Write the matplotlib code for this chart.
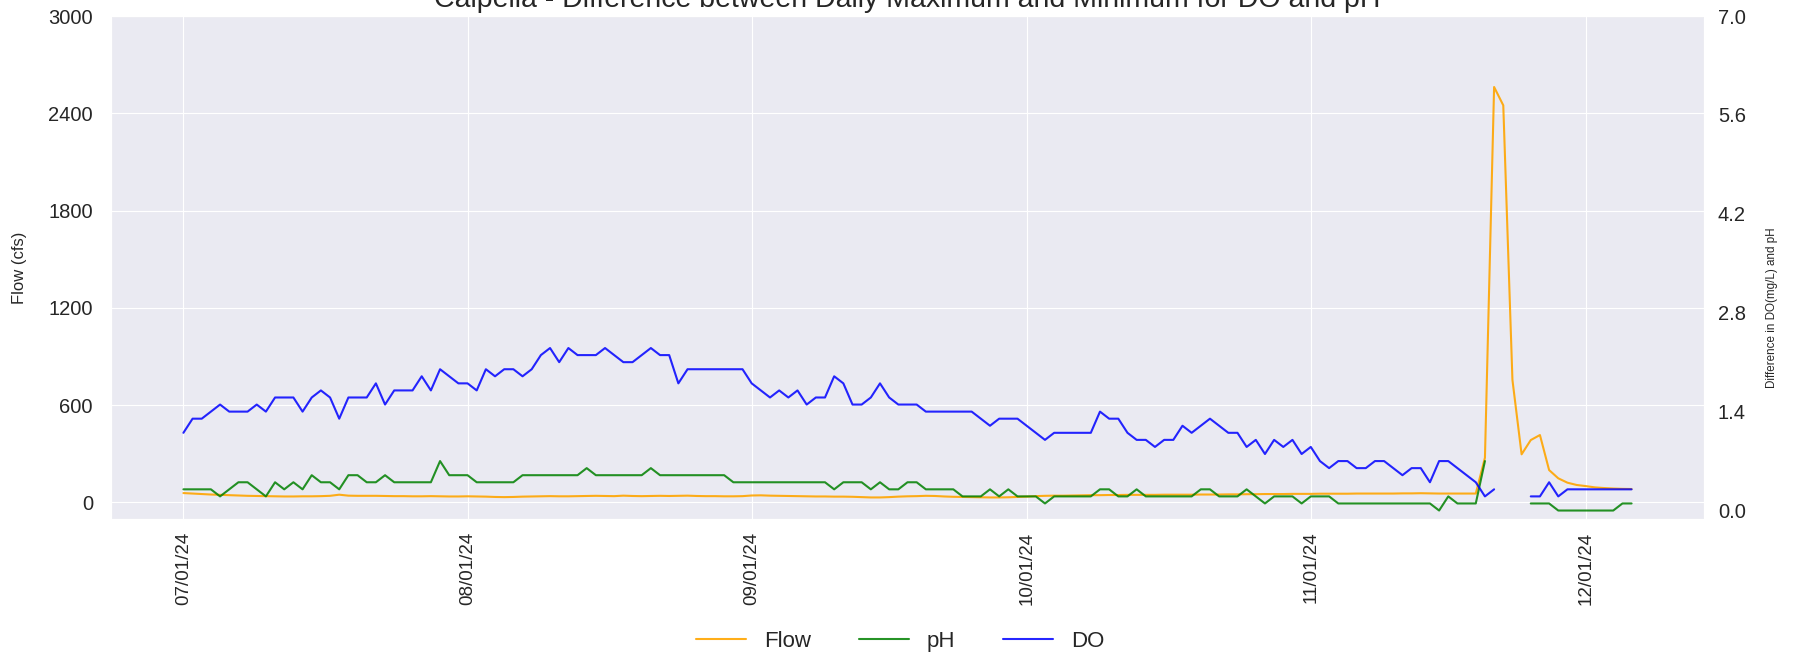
import matplotlib
matplotlib.use('Agg')
import matplotlib.pyplot as plt
import matplotlib.dates as mdates
from matplotlib import font_manager
import numpy as np
import pandas as pd
import seaborn as sns

# ---------------- data ----------------
start_date = '2024-07-01'

flow = [57, 54, 51, 48, 46, 44, 42, 40, 39, 38,
        37, 36, 36, 37, 37, 38, 40, 47, 41, 40,
        40, 40, 39, 38, 38, 37, 37, 38, 37, 36,
        36, 37, 36, 35, 33, 32, 33, 35, 36, 37,
        38, 37, 37, 38, 39, 40, 39, 38, 41, 39,
        38, 39, 40, 39, 40, 41, 39, 38, 38, 37,
        37, 38, 42, 43, 41, 40, 39, 38, 37, 36,
        36, 35, 35, 34, 32, 30, 30, 32, 35, 37,
        38, 40, 39, 36, 34, 33, 32, 31, 30, 30,
        31, 33, 35, 38, 40, 41, 41, 42, 43, 44,
        44, 45, 45, 46, 46, 46, 46, 47, 47, 47,
        47, 48, 48, 48, 49, 49, 50, 50, 51, 51,
        51, 52, 52, 52, 53, 53, 53, 53, 54, 54,
        54, 54, 54, 55, 55, 56, 55, 54, 54, 54,
        54, 54, 275, 2562, 2449, 755, 296, 384, 415, 199,
        148, 121, 107, 100, 92, 88, 85, 83, 82]

ph = [0.3, 0.3, 0.3, 0.3, 0.2, 0.3, 0.4, 0.4, 0.3, 0.2,
      0.4, 0.3, 0.4, 0.3, 0.5, 0.4, 0.4, 0.3, 0.5, 0.5,
      0.4, 0.4, 0.5, 0.4, 0.4, 0.4, 0.4, 0.4, 0.7, 0.5,
      0.5, 0.5, 0.4, 0.4, 0.4, 0.4, 0.4, 0.5, 0.5, 0.5,
      0.5, 0.5, 0.5, 0.5, 0.6, 0.5, 0.5, 0.5, 0.5, 0.5,
      0.5, 0.6, 0.5, 0.5, 0.5, 0.5, 0.5, 0.5, 0.5, 0.5,
      0.4, 0.4, 0.4, 0.4, 0.4, 0.4, 0.4, 0.4, 0.4, 0.4,
      0.4, 0.3, 0.4, 0.4, 0.4, 0.3, 0.4, 0.3, 0.3, 0.4,
      0.4, 0.3, 0.3, 0.3, 0.3, 0.2, 0.2, 0.2, 0.3, 0.2,
      0.3, 0.2, 0.2, 0.2, 0.1, 0.2, 0.2, 0.2, 0.2, 0.2,
      0.3, 0.3, 0.2, 0.2, 0.3, 0.2, 0.2, 0.2, 0.2, 0.2,
      0.2, 0.3, 0.3, 0.2, 0.2, 0.2, 0.3, 0.2, 0.1, 0.2,
      0.2, 0.2, 0.1, 0.2, 0.2, 0.2, 0.1, 0.1, 0.1, 0.1,
      0.1, 0.1, 0.1, 0.1, 0.1, 0.1, 0.1, 0.0, 0.2, 0.1,
      0.1, 0.1, 0.7, None, None, None, None, 0.1, 0.1, 0.1,
      0.0, 0.0, 0.0, 0.0, 0.0, 0.0, 0.0, 0.1, 0.1]

do = [1.1, 1.3, 1.3, 1.4, 1.5, 1.4, 1.4, 1.4, 1.5, 1.4,
      1.6, 1.6, 1.6, 1.4, 1.6, 1.7, 1.6, 1.3, 1.6, 1.6,
      1.6, 1.8, 1.5, 1.7, 1.7, 1.7, 1.9, 1.7, 2.0, 1.9,
      1.8, 1.8, 1.7, 2.0, 1.9, 2.0, 2.0, 1.9, 2.0, 2.2,
      2.3, 2.1, 2.3, 2.2, 2.2, 2.2, 2.3, 2.2, 2.1, 2.1,
      2.2, 2.3, 2.2, 2.2, 1.8, 2.0, 2.0, 2.0, 2.0, 2.0,
      2.0, 2.0, 1.8, 1.7, 1.6, 1.7, 1.6, 1.7, 1.5, 1.6,
      1.6, 1.9, 1.8, 1.5, 1.5, 1.6, 1.8, 1.6, 1.5, 1.5,
      1.5, 1.4, 1.4, 1.4, 1.4, 1.4, 1.4, 1.3, 1.2, 1.3,
      1.3, 1.3, 1.2, 1.1, 1.0, 1.1, 1.1, 1.1, 1.1, 1.1,
      1.4, 1.3, 1.3, 1.1, 1.0, 1.0, 0.9, 1.0, 1.0, 1.2,
      1.1, 1.2, 1.3, 1.2, 1.1, 1.1, 0.9, 1.0, 0.8, 1.0,
      0.9, 1.0, 0.8, 0.9, 0.7, 0.6, 0.7, 0.7, 0.6, 0.6,
      0.7, 0.7, 0.6, 0.5, 0.6, 0.6, 0.4, 0.7, 0.7, 0.6,
      0.5, 0.4, 0.2, 0.3, None, None, None, 0.2, 0.2, 0.4,
      0.2, 0.3, 0.3, 0.3, 0.3, 0.3, 0.3, 0.3, 0.3]

flow_ticks = [0, 600, 1200, 1800, 2400, 3000]
diff_ticks = [0.0, 1.4, 2.8, 4.2, 5.6, 7.0]

title = "Calpella - Difference between Daily Maximum and Minimum for DO and pH"

# ---------------- style ----------------
sns.set_style('darkgrid')
plt.rcParams['font.family'] = ['Liberation Sans', 'DejaVu Sans']
text_color = '#262626'

# narrow font for the right-hand label if one is installed
installed = {f.name for f in font_manager.fontManager.ttflist}
if 'Liberation Sans Narrow' in installed:
    right_label_font = dict(family=['Liberation Sans Narrow', 'DejaVu Sans'], fontsize=9.6)
else:
    right_label_font = dict(family=['Liberation Sans', 'DejaVu Sans'], fontsize=8.4)

dates = pd.date_range(start_date, periods=len(flow), freq='D')
ph_arr = np.array([np.nan if v is None else v for v in ph], dtype=float)
do_arr = np.array([np.nan if v is None else v for v in do], dtype=float)

W, H = 1800, 657
fig = plt.figure(figsize=(W / 100, H / 100), dpi=100)
ax = fig.add_axes([111 / W, 1 - 519 / H, 1593 / W, 503 / H])
ax2 = ax.twinx()

l1, = ax.plot(dates, flow, color='orange', lw=1.5, alpha=0.9, label='Flow')
l2, = ax2.plot(dates, ph_arr, color='green', lw=1.5, alpha=0.85, label='pH')
l3, = ax2.plot(dates, do_arr, color='blue', lw=1.5, alpha=0.85, label='DO')

ax.set_ylim(-103, 3000)
ax.set_yticks(flow_ticks)
ax2.set_ylim(-0.12, 7.0)
ax2.set_yticks(diff_ticks)
ax2.yaxis.set_major_formatter(matplotlib.ticker.FormatStrFormatter('%.1f'))
ax2.grid(False)

ax.xaxis.set_major_locator(mdates.MonthLocator())
ax.xaxis.set_major_formatter(mdates.DateFormatter('%m/%d/%y'))
for lab in ax.get_xticklabels():
    lab.set_rotation(90)

ax.tick_params(axis='y', labelsize=14.5, pad=13, colors=text_color, length=0)
ax.tick_params(axis='x', labelsize=13.5, pad=9, colors=text_color, length=0)
ax2.tick_params(axis='y', labelsize=14.5, pad=10, colors=text_color, length=0)

ax.set_ylabel('Flow (cfs)', fontsize=12, color=text_color)
ax.yaxis.set_label_coords(-0.053, 0.5)
ax2.set_ylabel('Difference in DO(mg/L) and pH', color=text_color, **right_label_font)
ax2.yaxis.set_label_coords(1.039, 0.42)

ax.set_title(title, fontsize=20.5, color=text_color, pad=6.5)

fig.legend(handles=[l1, l2, l3], loc='center', bbox_to_anchor=(0.5, 0.024),
           ncol=3, frameon=False, fontsize=16, handlelength=2.27,
           handletextpad=0.78, columnspacing=2.16)

fig.savefig('out.png', dpi=100)
